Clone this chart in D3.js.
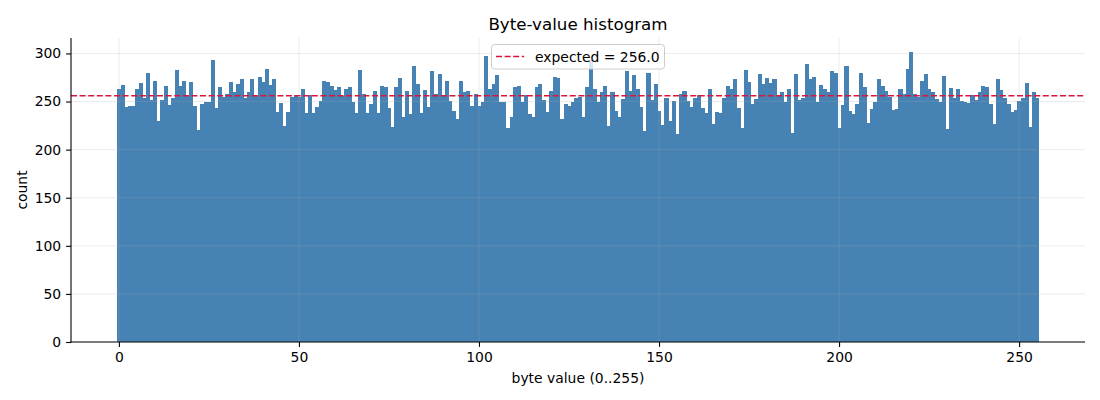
<!DOCTYPE html>
<html>
<head>
<meta charset="utf-8">
<script src="https://cdn.jsdelivr.net/npm/d3@7"></script>
<style>
  html, body { margin: 0; padding: 0; background: #fff; }
  svg { display: block; font-family: "DejaVu Sans", sans-serif; }
</style>
</head>
<body>
<svg id="chart" width="1100" height="400"></svg>
<script>
// ---- data ----
const byteValues = d3.range(256);
const counts = [
  263,267,244,245,245,263,269,254,280,252,271,230,252,266,246,254,
  283,266,271,257,270,245,220,247,250,250,293,243,265,255,258,270,
  260,268,273,254,260,273,257,275,270,284,267,273,239,248,225,239,
  255,257,255,263,238,257,238,244,251,271,270,266,262,265,256,263,
  265,249,238,283,258,238,247,261,238,266,265,243,224,265,274,234,
  261,237,287,268,238,262,244,282,258,279,256,271,251,240,232,271,
  260,261,245,258,245,249,297,263,268,278,250,250,223,234,265,266,
  250,257,237,234,265,268,252,239,261,275,274,232,247,245,250,254,
  255,234,265,293,263,249,260,266,225,260,240,234,253,282,261,278,
  263,244,219,280,252,268,240,226,254,230,251,216,258,261,251,244,
  254,257,243,238,263,227,239,238,254,266,263,273,243,223,283,270,
  247,253,279,268,274,269,273,257,260,250,263,217,279,252,254,289,
  273,276,249,267,263,260,282,280,223,246,287,240,237,247,280,265,
  228,242,250,273,266,261,255,241,242,263,258,284,301,258,255,271,
  279,263,260,253,250,277,221,264,254,263,251,249,248,257,252,260,
  266,265,247,227,273,262,254,247,239,241,251,254,269,224,260,254
];
const expected = 256.0;
const xTicks = [0, 50, 100, 150, 200, 250];
const yTicks = [0, 50, 100, 150, 200, 250, 300];
const titleText = "Byte-value histogram";
const xLabel = "byte value (0..255)";
const yLabel = "count";
const legendLabel = "expected = " + expected.toFixed(1);

(function () {
  // ---- layout ----
  const svg = d3.select("#chart");
  const mLeft = 71, mRight = 1085, mTop = 38, mBottom = 342;

  const x = d3.scaleLinear()
    .domain([-0.5 - 12.8, 255.5 + 12.8])
    .range([mLeft, mRight]);
  const y = d3.scaleLinear()
    .domain([0, d3.max(counts) * 1.05])
    .range([mBottom, mTop]);

  // bars
  svg.append("g").attr("shape-rendering", "crispEdges").selectAll("rect")
    .data(byteValues)
    .join("rect")
    .attr("x", d => x(d - 0.5))
    .attr("width", d => x(d + 0.5) - x(d - 0.5) + 0.5)
    .attr("y", d => y(counts[d]))
    .attr("height", d => y(0) - y(counts[d]))
    .attr("fill", "#4682b4");

  // grid (drawn over bars, light)
  const grid = svg.append("g").attr("stroke", "#b0b0b0").attr("stroke-opacity", 0.3).attr("stroke-width", 0.8);
  grid.selectAll("line.gy").data(yTicks).join("line").attr("class", "gy")
    .attr("x1", mLeft).attr("x2", mRight)
    .attr("y1", d => y(d)).attr("y2", d => y(d));
  grid.selectAll("line.gx").data(xTicks).join("line").attr("class", "gx")
    .attr("x1", d => x(d)).attr("x2", d => x(d))
    .attr("y1", mTop).attr("y2", mBottom);

  // expected line
  svg.append("line")
    .attr("x1", mLeft).attr("x2", mRight)
    .attr("y1", y(expected)).attr("y2", y(expected))
    .attr("stroke", "#dc143c")
    .attr("stroke-width", 1.6)
    .attr("stroke-dasharray", "6,2.6");

  // axes
  const xAxis = d3.axisBottom(x).tickValues(xTicks).tickSize(4.9).tickPadding(4.9).tickFormat(d3.format("d"));
  const yAxis = d3.axisLeft(y).tickValues(yTicks).tickSize(4.9).tickPadding(4.9).tickFormat(d3.format("d"));

  const gx = svg.append("g").attr("transform", `translate(0,${mBottom})`).call(xAxis);
  const gy = svg.append("g").attr("transform", `translate(${mLeft},0)`).call(yAxis);
  [gx, gy].forEach(g => {
    g.select(".domain").remove();
    g.selectAll(".tick line").attr("stroke", "#000").attr("stroke-width", 1.1);
    g.selectAll(".tick text").attr("fill", "#000").attr("font-size", "13.9px")
      .attr("font-family", "DejaVu Sans, sans-serif");
  });

  // spines
  svg.append("line").attr("x1", mLeft).attr("x2", mLeft).attr("y1", mTop).attr("y2", mBottom + 0.5)
    .attr("stroke", "#000").attr("stroke-width", 1.1);
  svg.append("line").attr("x1", mLeft - 0.5).attr("x2", mRight).attr("y1", mBottom).attr("y2", mBottom)
    .attr("stroke", "#000").attr("stroke-width", 1.1);

  // title
  svg.append("text")
    .attr("x", (mLeft + mRight) / 2).attr("y", 30)
    .attr("text-anchor", "middle")
    .attr("font-size", "16.7px")
    .attr("fill", "#000")
    .text(titleText);

  // axis labels
  svg.append("text")
    .attr("x", (mLeft + mRight) / 2).attr("y", 383)
    .attr("text-anchor", "middle")
    .attr("font-size", "13.9px")
    .text(xLabel);
  svg.append("text")
    .attr("transform", `translate(27,${(mTop + mBottom) / 2}) rotate(-90)`)
    .attr("text-anchor", "middle")
    .attr("font-size", "13.9px")
    .text(yLabel);

  // legend
  const lg = svg.append("g");
  lg.append("rect")
    .attr("x", 491.5).attr("y", 44.5).attr("width", 173).attr("height", 24.5)
    .attr("rx", 3).attr("ry", 3)
    .attr("fill", "#fff").attr("fill-opacity", 0.8)
    .attr("stroke", "#cccccc").attr("stroke-width", 1);
  lg.append("line")
    .attr("x1", 496).attr("x2", 524).attr("y1", 56.5).attr("y2", 56.5)
    .attr("stroke", "#dc143c").attr("stroke-width", 1.6).attr("stroke-dasharray", "6,2.6");
  lg.append("text")
    .attr("x", 535).attr("y", 61.5)
    .attr("font-size", "13.9px")
    .text(legendLabel);
})();
</script>
</body>
</html>
